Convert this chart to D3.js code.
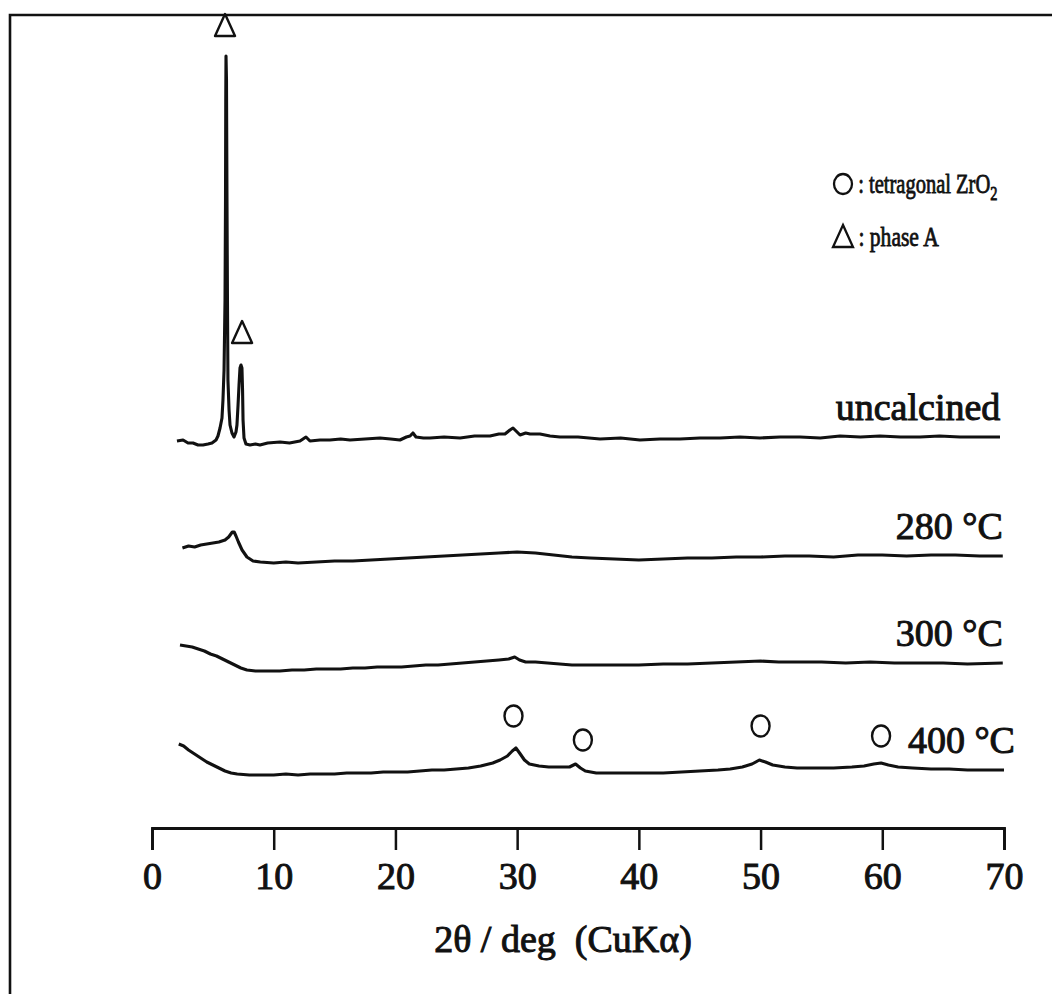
<!DOCTYPE html>
<html>
<head>
<meta charset="utf-8">
<script src="https://cdn.jsdelivr.net/npm/d3@7"></script>
<style>
  html, body { margin: 0; padding: 0; background: #fff; }
  svg { display: block; }
  text { font-family: "Liberation Serif", "Times New Roman", serif; fill: #111; }
</style>
</head>
<body>
<svg id="chart" width="1052" height="994"></svg>
<script>
// ---------- DATA (2θ in degrees, intensity in arbitrary units incl. offset) ----------
const xTicks = [0, 10, 20, 30, 40, 50, 60, 70];

const uncalcined = [
  [2.05,409],[2.55,410],[2.96,407],[3.37,407],[3.78,405],[4.19,405],[4.60,406],[4.93,407],
  [5.26,410],[5.42,414],[5.59,422],[5.75,432],[5.83,450],[5.92,480],[6.00,550],[6.04,650],
  [6.06,750],[6.08,794],[6.12,770],[6.16,650],[6.20,550],[6.24,470],[6.33,440],[6.41,425],
  [6.57,417],[6.74,413],[6.90,418],[6.98,425],[7.07,445],[7.15,465],[7.23,482],[7.31,485],
  [7.39,482],[7.44,460],[7.48,430],[7.56,412],[7.72,406],[8.05,405],[8.5,406],[8.87,405],
  [9.5,407],[10.52,408],[11.3,407],[12.16,409],[12.65,413],[12.98,409],[13.8,410],[14.62,410],
  [15.5,411],[16.27,410],[17.5,411],[18.73,412],[19.6,411],[20.37,410],[20.9,413],[21.20,414],
  [21.44,417],[21.69,413],[22.3,412],[22.84,412],[24.0,413],[25.31,412],[26.5,414],[27.77,414],
  [28.5,416],[29.00,416],[29.41,420],[29.66,422],[29.91,419],[30.24,415],[30.7,417],[31.06,416],
  [31.88,416],[32.7,414],[33.52,413],[35.0,413],[36.81,411],[38.5,412],[40.09,410],[41.74,411],
  [43.38,411],[45.02,412],[46.67,412],[48.3,413],[49.95,412],[51.6,413],[53.24,413],[54.9,412],
  [56.53,414],[58.2,413],[59.81,414],[61.5,413],[63.10,413],[64.7,414],[66.39,413],[68.0,413],[69.67,413]
];

const c280 = [
  [2.5,302],[3.0,304],[3.5,303],[4.0,305],[4.5,306],[5.0,307],[5.5,308],[6.0,310],[6.3,313],
  [6.6,318],[6.75,318],[6.9,314],[7.1,308],[7.4,300],[7.8,293],[8.3,289],[8.9,288],[10,287],
  [11,288],[12.0,287],[13.5,288],[15,289],[16.5,289],[18,290],[19.5,291],[21,292],[22.5,293],
  [24,294],[25.5,295],[27,296],[28.5,297],[30,298],[31.5,297],[33,295],[34.5,293],[36,292],
  [38,291],[40,290],[42,291],[44,292],[46,292],[48,293],[50,293],[52,294],[54,294],[56,293],
  [58,295],[60,295],[62,294],[64,295],[66,295],[68,294],[69.9,294]
];

const c300 = [
  [2.3,205],[2.8,204],[3.3,203],[3.8,201],[4.3,199],[4.8,196],[5.3,194],[5.8,191],[6.3,188],
  [6.8,185],[7.3,182],[7.8,180],[8.5,179],[9.5,179],[10.5,179],[11.5,180],[12.5,180],[13.5,181],
  [14.5,181],[15.5,181],[16.5,182],[17.5,182],[18.5,183],[19.5,183],[20.5,183],[21.5,184],
  [22.5,185],[23.5,185],[24.5,186],[25.5,187],[26.5,188],[27.5,189],[28.5,190],[29.3,191],
  [29.8,193],[30.2,190],[30.7,188],[31.5,188],[32.5,187],[33.5,186],[34.5,185],[36,185],
  [38,185],[40,185],[42,186],[44,186],[46,187],[48,188],[50,189],[51.5,188],[53,188],[55,188],
  [57,187],[59,188],[61,187],[63,187],[65,187],[67,186],[69.9,187]
];

const c400 = [
  [2.2,106],[2.6,104],[3.0,100],[3.5,96],[4.0,92],[4.5,88],[5.0,85],[5.5,82],[6.0,79],[6.5,77],
  [7.0,76],[8.0,75],[9.0,75],[10,75],[11,76],[12,75],[13,76],[14,76],[15,76],[16,77],[17,77],
  [18,77],[19,78],[20,78],[21,78],[22,79],[23,80],[24,80],[25,81],[26,82],[27,84],[28,87],
  [28.6,90],[29.2,94],[29.6,99],[29.9,102],[30.2,97],[30.6,90],[31.0,86],[31.8,84],[32.6,83],
  [33.5,83],[34.3,83],[34.8,86],[35.2,82],[35.6,79],[36.5,77],[37.5,77],[39,77],[40.5,77],
  [42,77],[43.5,78],[45,79],[46.5,80],[47.5,81],[48.5,83],[49.3,86],[49.9,90],[50.4,88],
  [51.0,85],[52,83],[53,82],[54.5,82],[56,82],[57.5,83],[58.5,84],[59.3,86],[59.9,87],
  [60.5,85],[61.3,83],[62.5,82],[64,81],[65.5,81],[67,80],[68.5,80],[70,80]
];

const seriesNames  = ["uncalcined", "280 °C", "300 °C", "400 °C"];
const seriesData   = [uncalcined, c280, c300, c400];
const labelTheta   = [69.7, 69.9, 69.9, 70.9];
const labelValue   = [430, 311, 204, 97];

// peak markers
const tetragonalMarks = [[29.7,134],[35.4,110],[50.0,124],[59.9,114]];
const phaseAMarks     = [[6.0,825],[7.4,518]];

const legendItems = [" : tetragonal ZrO", " : phase A"];

// ---------- DRAW ----------
const svg = d3.select("#chart");
const W = 1052, H = 994;

const x = d3.scaleLinear().domain([0, 70]).range([152, 1004]);
const y = d3.scaleLinear().domain([0, 800]).range([850, 50]);

// frame (top and left borders)
svg.append("path")
  .attr("d", `M10,${H} L10,15 L${W},15`)
  .attr("fill", "none").attr("stroke", "#111").attr("stroke-width", 2.6);

// x axis
const axisY = 828;
const axis = d3.axisBottom(x).tickValues(xTicks).tickFormat(d3.format("d"))
  .tickSize(22).tickSizeOuter(22).tickPadding(12);
const gAx = svg.append("g").attr("transform", `translate(0,${axisY})`).call(axis);
gAx.select(".domain").attr("stroke", "#111").attr("stroke-width", 2.8);
gAx.selectAll(".tick line").attr("stroke", "#111").attr("stroke-width", 2.5);
gAx.selectAll(".tick text")
  .attr("font-family", "Liberation Serif, serif").attr("font-size", 38)
  .attr("fill", "#111").attr("stroke", "#111").attr("stroke-width", 1);

svg.append("text")
  .attr("x", 563).attr("y", 952).attr("text-anchor", "middle")
  .attr("font-size", 38).attr("stroke", "#111").attr("stroke-width", 1)
  .style("white-space", "pre")
  .text("2θ / deg  (CuKα)");

// traces
const line = d3.line().x(d => x(d[0])).y(d => y(d[1]));
svg.append("g").selectAll("path").data(seriesData).join("path")
  .attr("d", line)
  .attr("fill", "none").attr("stroke", "#111").attr("stroke-width", 3.1)
  .attr("stroke-linejoin", "round");

// series labels
svg.append("g").selectAll("text").data(seriesNames).join("text")
  .attr("x", (d, i) => x(labelTheta[i]))
  .attr("y", (d, i) => y(labelValue[i]))
  .attr("text-anchor", "end").attr("font-size", 38)
  .attr("stroke", "#111").attr("stroke-width", 1)
  .text(d => d);

// marker shapes
function triPath(cx, cy) {
  const w = 10, h = 11;
  return `M${cx},${cy - h} L${cx + w},${cy + h} L${cx - w},${cy + h} Z`;
}
svg.append("g").selectAll("ellipse").data(tetragonalMarks).join("ellipse")
  .attr("cx", d => x(d[0])).attr("cy", d => y(d[1]))
  .attr("rx", 9).attr("ry", 10.5)
  .attr("fill", "none").attr("stroke", "#111").attr("stroke-width", 2.4);
svg.append("g").selectAll("path").data(phaseAMarks).join("path")
  .attr("d", d => triPath(x(d[0]), y(d[1])))
  .attr("fill", "none").attr("stroke", "#111").attr("stroke-width", 2.4)
  .attr("stroke-linejoin", "round");

// legend
const lg = svg.append("g");
lg.append("ellipse").attr("cx", 843).attr("cy", 184).attr("rx", 9).attr("ry", 10)
  .attr("fill", "none").attr("stroke", "#111").attr("stroke-width", 2.3);
const t1 = lg.append("text").attr("transform", "translate(853,193) scale(0.76,1)")
  .attr("font-size", 27).attr("stroke", "#111").attr("stroke-width", 0.8)
  .style("white-space", "pre");
t1.append("tspan").text(legendItems[0]);
t1.append("tspan").attr("font-size", 19).attr("dy", 7).text("2");
lg.append("path").attr("d", triPath(843, 236))
  .attr("fill", "none").attr("stroke", "#111").attr("stroke-width", 2.3);
lg.append("text").attr("transform", "translate(853,246) scale(0.8,1)")
  .attr("font-size", 27).attr("stroke", "#111").attr("stroke-width", 0.8)
  .style("white-space", "pre")
  .text(legendItems[1]);
</script>
</body>
</html>
